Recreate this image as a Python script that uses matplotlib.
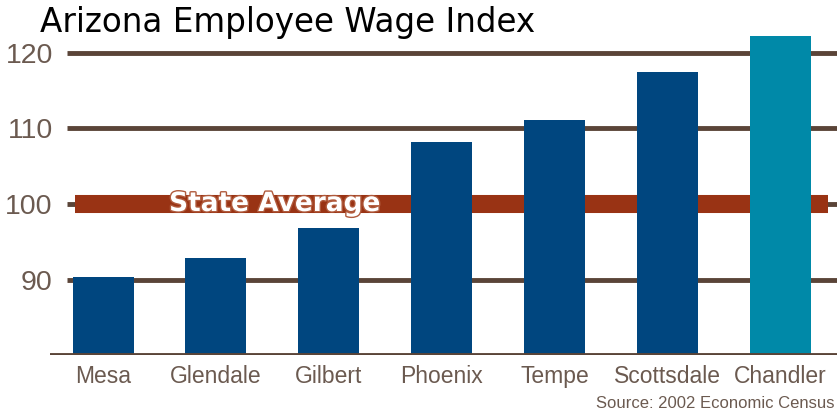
import matplotlib
matplotlib.use('Agg')
import matplotlib.pyplot as plt
import matplotlib.patheffects as pe

# Data
cities = ['Mesa', 'Glendale', 'Gilbert', 'Phoenix', 'Tempe', 'Scottsdale', 'Chandler']
wage_index = [90.3, 92.8, 96.8, 108.2, 111.1, 117.5, 122.2]
bar_colors = ['#00467f'] * 6 + ['#0089a8']
y_ticks = [90, 100, 110, 120]
state_average = 100

label_font = ['Liberation Sans', 'DejaVu Sans']
grid_color = '#5a4438'
label_color = '#6b5a50'

fig = plt.figure(figsize=(8.4, 4.15), dpi=100)
ax = fig.add_axes([50 / 840, 1 - 355 / 415, 787 / 840, (355 - 15.25) / 415])
x = list(range(len(cities)))

# gridlines behind the bars
ax.hlines(y_ticks, -0.32, 6.5, colors=grid_color, linewidth=3.5, zorder=1)
# state average band
ax.hlines(state_average, -0.25, 6.42, colors='#993314', linewidth=13, zorder=2)
ax.text(1.52, state_average, 'State Average', ha='center', va='center',
        fontsize=19, fontweight='bold', color='white', family='DejaVu Sans',
        zorder=3, path_effects=[pe.withStroke(linewidth=2, foreground='#b05a3c')])

ax.bar(x, wage_index, width=0.54, color=bar_colors, zorder=4)
ax.axhline(80, color=grid_color, linewidth=3.5, zorder=5)

ax.set_xlim(-0.47, 6.5)
ax.set_ylim(80, 125)
ax.set_xticks(x)
ax.set_xticklabels(cities, family=label_font, fontsize=16.5, color=label_color)
ax.set_yticks(y_ticks)
ax.set_yticklabels([str(v) for v in y_ticks], family=label_font, fontsize=20.5, color=label_color)
ax.tick_params(length=0)
ax.tick_params(axis='x', pad=7)
ax.tick_params(axis='y', pad=-2)
for s in ax.spines.values():
    s.set_visible(False)

fig.text(40 / 840, 1 - 6 / 415, 'Arizona Employee Wage Index', ha='left', va='top',
         fontsize=23.5, color='black', family='DejaVu Sans')
fig.text(835 / 840, 1 - 408 / 415, 'Source: 2002 Economic Census', ha='right', va='baseline',
         fontsize=12, color=label_color, family=label_font)

fig.savefig('out.png', dpi=100)
